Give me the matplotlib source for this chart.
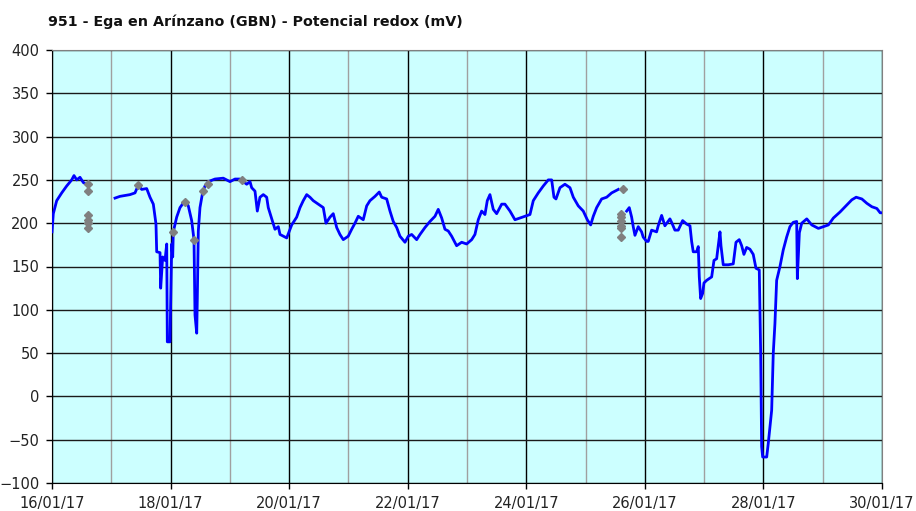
import matplotlib
matplotlib.use('Agg')
import matplotlib.pyplot as plt
import matplotlib.dates as mdates
from matplotlib.ticker import MultipleLocator
import numpy as np
import pandas as pd

# --- datos (dias desde 16/01/17 00:00, mV) ---
start = pd.Timestamp('2017-01-16')

tramo1_dias = [0.0, 0.022, 0.079, 0.164, 0.248, 0.332, 0.371, 0.417, 0.472, 0.528, 0.573]
tramo1_mv = [190, 211, 226, 235, 243, 250, 255, 250, 253, 247, 245]

tramo2_dias = [1.063, 1.147, 1.316, 1.400, 1.456, 1.513, 1.597, 1.653, 1.709, 1.754, 1.766, 1.822,
               1.833, 1.867, 1.906, 1.935, 1.945, 1.990, 2.019, 2.036, 2.046, 2.103, 2.159, 2.243,
               2.299, 2.356, 2.395, 2.412, 2.441, 2.451, 2.468, 2.496, 2.542, 2.581, 2.636, 2.749,
               2.889, 3.002, 3.087, 3.171, 3.227, 3.284, 3.340, 3.368, 3.424, 3.463, 3.508, 3.564,
               3.621, 3.648, 3.706, 3.761, 3.817, 3.846, 3.901, 3.959, 4.014, 4.043, 4.127, 4.183,
               4.238, 4.296, 4.351, 4.407, 4.491, 4.576, 4.621, 4.689, 4.744, 4.802, 4.857, 4.913,
               4.997, 5.055, 5.110, 5.166, 5.250, 5.308, 5.363, 5.448, 5.520, 5.561, 5.645, 5.701,
               5.756, 5.814, 5.869, 5.954, 6.010, 6.067, 6.151, 6.207, 6.291, 6.375, 6.460, 6.515,
               6.573, 6.628, 6.684, 6.741, 6.825, 6.910, 6.994, 7.079, 7.134, 7.190, 7.247, 7.303,
               7.342, 7.387, 7.443, 7.500, 7.585, 7.640, 7.725, 7.809, 7.893, 7.978, 8.062, 8.118,
               8.202, 8.287, 8.371, 8.428, 8.467, 8.501, 8.568, 8.652, 8.737, 8.793, 8.877, 8.961,
               9.029, 9.086, 9.130, 9.187, 9.271, 9.356, 9.440, 9.552]
tramo2_mv = [229, 231, 233, 235, 244, 239, 240, 230, 222, 199, 167, 166,
             125, 161, 157, 176, 63, 63, 176, 161, 190, 207, 218, 226,
             220, 203, 181, 94, 73, 113, 191, 218, 236, 243, 248, 251,
             252, 248, 251, 251, 248, 245, 248, 241, 237, 214, 230, 233,
             230, 218, 205, 193, 196, 187, 185, 183, 193, 198, 207, 218,
             226, 233, 230, 226, 222, 218, 200, 207, 211, 195, 187, 181,
             185, 193, 200, 208, 204, 220, 226, 231, 236, 230, 228, 214,
             202, 195, 185, 178, 185, 187, 181, 187, 195, 202, 208, 216,
             206, 193, 191, 185, 174, 178, 176, 181, 187, 204, 214, 210,
             226, 233, 216, 211, 222, 222, 214, 204, 206, 208, 210, 226,
             235, 243, 250, 250, 230, 228, 241, 245, 241, 230, 220, 214,
             204, 198, 208, 218, 228, 230, 235, 239]

tramo3_dias = [9.693, 9.737, 9.777, 9.804, 9.833, 9.888, 9.945, 9.972, 10.029, 10.057, 10.114, 10.198,
               10.225, 10.283, 10.338, 10.423, 10.451, 10.507, 10.563, 10.637, 10.705, 10.761, 10.789,
               10.816, 10.873, 10.901, 10.918, 10.941, 10.975, 10.997, 11.042, 11.127, 11.166, 11.211,
               11.238, 11.267, 11.284, 11.322, 11.407, 11.491, 11.537, 11.592, 11.633, 11.671, 11.717,
               11.772, 11.828, 11.874, 11.930, 11.953, 11.970, 11.987, 12.055, 12.082, 12.139, 12.166,
               12.194, 12.223, 12.279, 12.334, 12.392, 12.447, 12.503, 12.561, 12.572, 12.606, 12.646,
               12.731, 12.815, 12.927, 13.011, 13.096, 13.180, 13.293, 13.406, 13.491, 13.564, 13.660,
               13.744, 13.829, 13.913, 13.969, 14.0]
tramo3_mv = [214, 218, 207, 196, 186, 196, 190, 184, 179, 179, 192, 190,
             197, 209, 197, 205, 201, 192, 192, 203, 199, 197, 179,
             167, 167, 173, 138, 113, 119, 131, 134, 138, 157, 159,
             174, 190, 174, 152, 152, 153, 178, 181, 174, 164, 172,
             170, 164, 148, 146, 52, -58, -70, -70, -54, -16, 50,
             84, 134, 150, 169, 184, 196, 201, 202, 136, 189, 200,
             205, 198, 194, 196, 198, 206, 213, 221, 227, 230, 228,
             223, 219, 217, 212, 212]

marcas_dias = [0.607, 0.607, 0.607, 0.607, 0.607, 0.607, 1.456, 2.046, 2.243, 2.395, 2.552,
               2.636, 3.199, 9.626, 9.600, 9.600, 9.600, 9.600, 9.600, 9.600]
marcas_mv = [245, 237, 210, 204, 200, 194, 244, 190, 225, 181, 237,
             245, 250, 240, 211, 207, 203, 197, 194, 184]


def a_fecha(dias):
    return start + pd.to_timedelta(np.array(dias), unit='D')


fig = plt.figure(figsize=(9.16, 5.11), dpi=100)
ax = fig.add_axes([52 / 916, 1 - 483 / 511, 830 / 916, 433 / 511])
ax.set_facecolor('#ccffff')

for t, v in [(tramo1_dias, tramo1_mv), (tramo2_dias, tramo2_mv), (tramo3_dias, tramo3_mv)]:
    ax.plot(a_fecha(t), v, color='#0000ff', lw=2, zorder=3)
ax.plot(a_fecha(marcas_dias), marcas_mv, ls='none', marker='D', ms=4.5,
        color='#808080', zorder=4)

ax.set_xlim(start, start + pd.Timedelta(days=14))
ax.set_ylim(-100, 400)
ax.yaxis.set_major_locator(MultipleLocator(50))
ax.xaxis.set_major_locator(mdates.DayLocator(interval=2))
ax.xaxis.set_minor_locator(mdates.DayLocator())
ax.xaxis.set_major_formatter(mdates.DateFormatter('%d/%m/%y'))

ax.grid(axis='y', color='#1a1a1a', lw=1, zorder=1)
ax.grid(axis='x', which='major', color='#000000', lw=1, zorder=1)
ax.grid(axis='x', which='minor', color='#a0a0a0', lw=1, zorder=1)

ax.tick_params(axis='both', which='major', direction='out', length=4, width=1,
               labelsize=10.5, colors='#000000', labelcolor='#222222', pad=5)
ax.tick_params(axis='x', which='minor', length=0)
for s in ['left', 'bottom']:
    ax.spines[s].set_color('#000000')
for s in ['top', 'right']:
    ax.spines[s].set_color('#808080')

fig.text(48 / 916, 1 - 22 / 511, '951 - Ega en Arínzano (GBN) - Potencial redox (mV)',
         fontsize=10.3, fontweight='bold', va='center', ha='left', color='#111111')

fig.savefig('out.png', dpi=100)
